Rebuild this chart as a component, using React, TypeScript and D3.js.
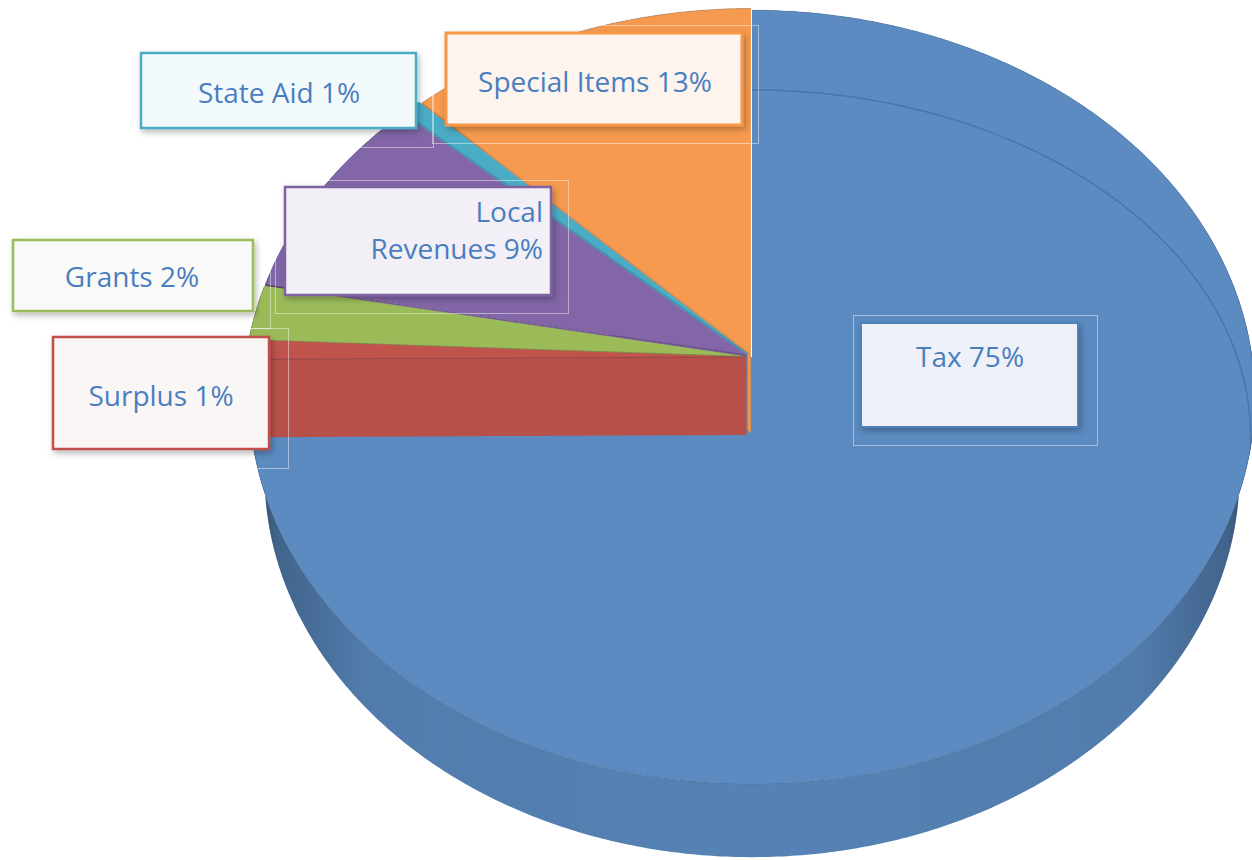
import React from 'react';
import * as d3 from 'd3';

// ---- data ----
const categories = ['Tax', 'Surplus', 'Grants', 'Local Revenues', 'State Aid', 'Special Items'];
const values = [74.9, 0.8, 2.3, 8.8, 0.7, 12.5];
const labelLines = [['Tax 75%'], ['Surplus 1%'], ['Grants 2%'], ['Local', 'Revenues 9%'], ['State Aid 1%'], ['Special Items 13%']];

// ---- styles ----
const topColors = ['#5b8bc1', '#c0544d', '#9bbb59', '#8266a8', '#4bacc6', '#f59a4e'];
const borderColors = ['#4f81bd', '#c0504d', '#9bbb59', '#8064a2', '#4bacc6', '#f79646'];
const explode = [0, 0.012, 0.012, 0.012, 0.012, 0.006];

const labelLayout = [
  { x: 861, y: 323, w: 217, h: 104, tx: 970, ty: [367], anchor: 'middle', fill: '#eef1f7', sw: 2, faint: [853, 315, 1097, 445] },
  { x: 53, y: 337, w: 216, h: 112, tx: 161, ty: [406], anchor: 'middle', fill: '#faf6f6', sw: 2.5, faint: [40, 328, 288, 468] },
  { x: 13, y: 240, w: 240, h: 71, tx: 132, ty: [287], anchor: 'middle', fill: '#f9faf7', sw: 2.5, faint: [4, 232, 270, 328] },
  { x: 285, y: 187, w: 266, h: 108, tx: 543, ty: [222, 259], anchor: 'end', fill: '#f2eff6', sw: 2.5, faint: [275, 180, 568, 313] },
  { x: 141, y: 53, w: 275, h: 75, tx: 279, ty: [103], anchor: 'middle', fill: '#f3fafc', sw: 2.5, faint: [130, 44, 433, 147] },
  { x: 446, y: 33, w: 296, h: 92, tx: 595, ty: [92], anchor: 'middle', fill: '#fdf4ee', sw: 3, faint: [432, 25, 758, 143] },
];

// ---- projection (perspective view of a tilted disc) ----
const CX = 752, CY = 357, F = 3077, D = 6.153;
const SIN = 0.766, COS = 0.643, T = 0.25;
function proj(X: number, Y: number, Z: number): [number, number] {
  const depth = D - Y * SIN + Z * COS;
  const up = Y * COS + Z * SIN;
  return [CX + (F * X) / depth, CY - (F * up) / depth];
}

const line = d3.line();
const closed = (pts: [number, number][]) => (line(pts) || '') + 'Z';

function arcPts(a0: number, a1: number, Y: number, ox: number, oz: number) {
  const n = Math.max(2, Math.ceil(Math.abs(a1 - a0) / (Math.PI / 360)));
  const pts: [number, number][] = [];
  for (let i = 0; i <= n; i++) {
    const a = a0 + ((a1 - a0) * i) / n;
    pts.push(proj(ox + Math.sin(a), Y, oz + Math.cos(a)));
  }
  return pts;
}

function radialFace(a: number, ox: number, oz: number) {
  return closed([
    proj(ox, 0, oz),
    proj(ox + Math.sin(a), 0, oz + Math.cos(a)),
    proj(ox + Math.sin(a), -T, oz + Math.cos(a)),
    proj(ox, -T, oz),
  ]);
}

export default function App() {
  const pie = d3.pie<number>().sort(null).startAngle(0).endAngle(Math.PI * 2);
  const arcs = pie(values);

  const slices = arcs.map((a, i) => {
    const mid = (a.startAngle + a.endAngle) / 2;
    const ox = explode[i] * Math.sin(mid);
    const oz = explode[i] * Math.cos(mid);
    const topPts = [proj(ox, 0, oz), ...arcPts(a.startAngle, a.endAngle, 0, ox, oz)];
    const rimTop = arcPts(a.startAngle, a.endAngle, 0, ox, oz);
    const rimBot = arcPts(a.startAngle, a.endAngle, -T, ox, oz).reverse();
    const base = d3.color(topColors[i])!;
    return {
      i,
      depth: Math.cos(mid),
      top: closed(topPts),
      wall: closed([...rimTop, ...rimBot]),
      rim: line(rimTop) || '',
      edge: line([proj(ox, 0, oz), proj(ox + Math.sin(a.startAngle), 0, oz + Math.cos(a.startAngle))]) || '',
      faceEnd: radialFace(a.endAngle, ox, oz),
      faceStart: radialFace(a.startAngle, ox, oz),
      topColor: topColors[i],
      faceColor: base.darker(0.12).formatHex(),
      wallColor: base.darker(0.12).formatHex(),
    };
  });

  // largest slice is the base, the rest drawn far to near
  const order = [...slices].sort((p, q) => {
    if (p.i === 0) return -1;
    if (q.i === 0) return 1;
    return q.depth - p.depth;
  });

  // bevel highlight curve on the big slice
  const bevel: [number, number][] = [];
  for (let k = 0; k <= 360; k++) {
    const a = (k / 360) * Math.PI * 2;
    bevel.push(proj(0.98 * Math.sin(a), 0, -0.124 + 0.876 * Math.cos(a)));
  }

  return (
    <svg width={1252} height={860} style={{ position: 'absolute', left: 0, top: 0, display: 'block', background: '#ffffff' }}
      fontFamily="'Comic Sans MS', 'Open Sans', sans-serif">
      <defs>
        <linearGradient id="wallShade" gradientUnits="userSpaceOnUse" x1={247} y1={0} x2={1257} y2={0}>
          <stop offset="0%" stopColor="#000" stopOpacity={0.5} />
          <stop offset="3%" stopColor="#000" stopOpacity={0.25} />
          <stop offset="12%" stopColor="#000" stopOpacity={0.07} />
          <stop offset="50%" stopColor="#000" stopOpacity={0.02} />
          <stop offset="88%" stopColor="#000" stopOpacity={0.07} />
          <stop offset="97%" stopColor="#000" stopOpacity={0.25} />
          <stop offset="100%" stopColor="#000" stopOpacity={0.5} />
        </linearGradient>
        <clipPath id="taxClip">
          <path d={slices[0].top} />
        </clipPath>
        <filter id="shadow" x="-20%" y="-20%" width="150%" height="160%">
          <feDropShadow dx={2} dy={3} stdDeviation={3} floodColor="#000" floodOpacity={0.28} />
        </filter>
      </defs>

      {order.map((s) => (
        <g key={categories[s.i]}>
          <path d={s.faceEnd} fill={s.faceColor} />
          <path d={s.faceStart} fill={s.faceColor} />
          <path d={s.wall} fill={s.wallColor} />
          <path d={s.wall} fill="url(#wallShade)" />
          <path d={s.top} fill={s.topColor} />
          <path d={s.rim} fill="none" stroke="#1f3a60" strokeOpacity={0.22} strokeWidth={1} />
          {s.i !== 0 && <path d={s.edge} fill="none" stroke="#3a2a40" strokeOpacity={0.3} strokeWidth={1} />}
          {s.i === 0 && (
            <path d={closed(bevel)} fill="none" stroke="#2f5486" strokeOpacity={0.4} strokeWidth={1.5} clipPath="url(#taxClip)" />
          )}
        </g>
      ))}

      {labelLayout.map((b, i) => (
        <g key={'lbl' + i}>
          <rect x={b.faint[0] + 0.5} y={b.faint[1] + 0.5} width={b.faint[2] - b.faint[0]} height={b.faint[3] - b.faint[1]}
            fill="none" stroke="#ffffff" strokeOpacity={0.45} strokeWidth={1} />
          <rect x={b.x} y={b.y} width={b.w} height={b.h} fill={b.fill} stroke={borderColors[i]} strokeWidth={b.sw} filter="url(#shadow)" />
          {labelLines[i].map((t, j) => (
            <text key={j} x={b.tx} y={b.ty[j]} textAnchor={b.anchor as any} fontSize={28} fill="#4a7ebf">
              {t}
            </text>
          ))}
        </g>
      ))}
    </svg>
  );
}
